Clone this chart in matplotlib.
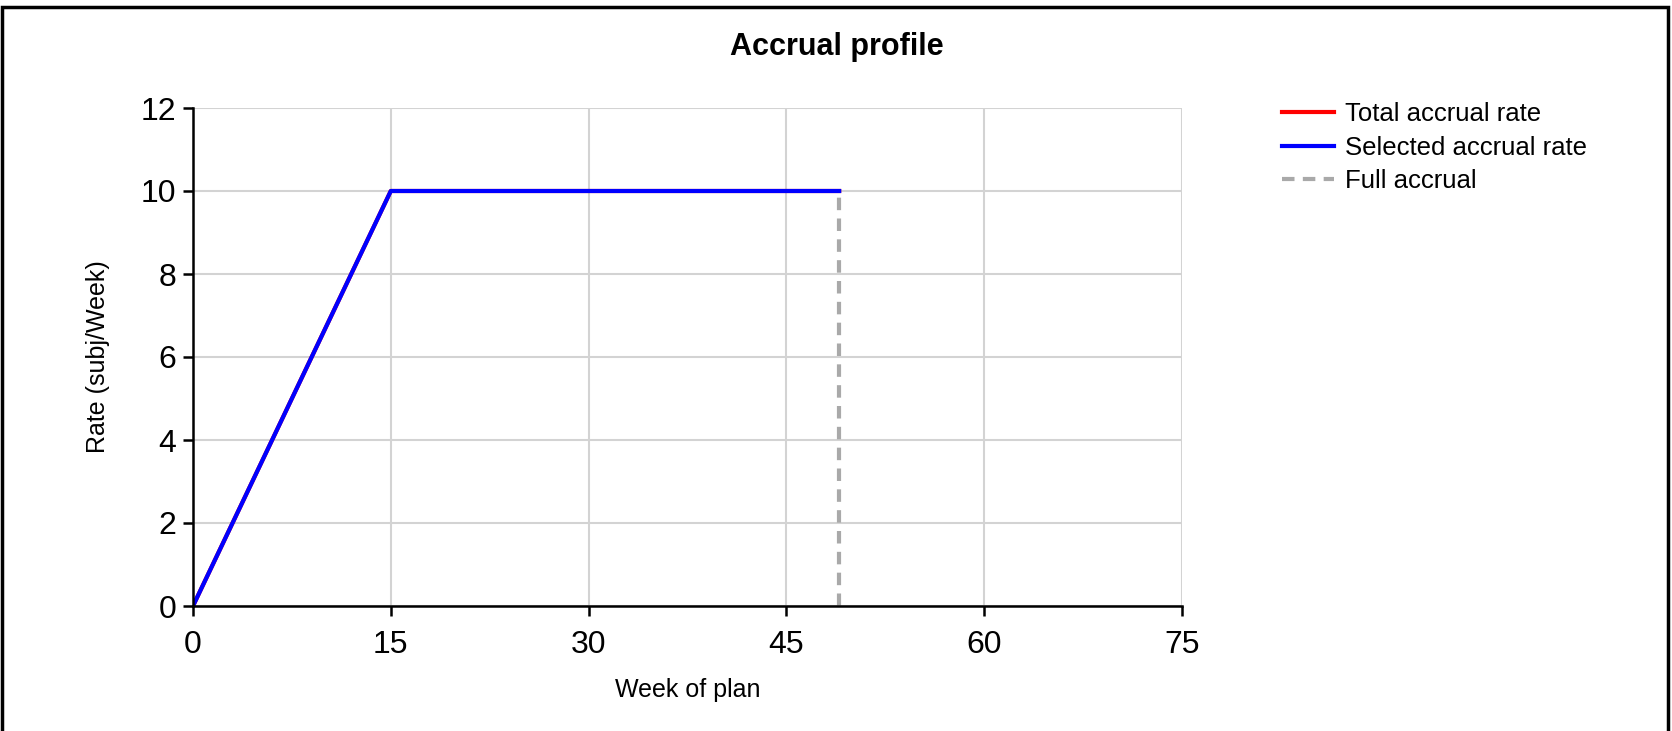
import matplotlib.pyplot as plt
from matplotlib.patches import Rectangle

plt.rcParams['font.family'] = ['Liberation Sans', 'DejaVu Sans']

# accrual profile data
weeks = [0, 15, 49]
total_rate = [0, 10, 10]
selected_rate = [0, 10, 10]
full_accrual_week = 49
full_accrual_rate = [0, 10]

xticks = [0, 15, 30, 45, 60, 75]
yticks = [0, 2, 4, 6, 8, 10, 12]

fig = plt.figure(figsize=(16.72, 7.31), dpi=100)
ax = fig.add_axes([193 / 1672, 1 - 606 / 731, (1182 - 193) / 1672, (606 - 108) / 731])

# outer frame
fig.patches.append(Rectangle((2 / 1672, -0.01), 1 - 6 / 1672, 1.0, transform=fig.transFigure,
                             fill=False, edgecolor='black', linewidth=2.5))

ax.plot(weeks, total_rate, color='red', linewidth=3, label='Total accrual rate')
ax.plot(weeks, selected_rate, color='blue', linewidth=3, label='Selected accrual rate')
ax.plot([full_accrual_week, full_accrual_week], full_accrual_rate, color='#a9a9a9',
        linewidth=3, linestyle=(0, (3, 2)), label='Full accrual')

ax.set_xlim(0, 75)
ax.set_ylim(0, 12)
ax.set_xticks(xticks)
ax.set_yticks(yticks)
ax.grid(True, color='#d3d3d3', linewidth=1.5)
ax.set_axisbelow(True)
for s in ['top', 'right']:
    ax.spines[s].set_visible(False)
for s in ['left', 'bottom']:
    ax.spines[s].set_linewidth(1.8)
ax.tick_params(axis='both', length=7, width=1.8, labelsize=23, pad=5)
ax.tick_params(axis='x', pad=10)

ax.set_xlabel('Week of plan', fontsize=18, labelpad=13)
ax.set_ylabel('Rate (subj/Week)', fontsize=18, labelpad=22)

fig.text(0.5 * (193 + 1480) / 1672, 1 - 47 / 731, 'Accrual profile', fontsize=22,
         fontweight='bold', ha='center', va='center')

leg = fig.legend(loc='upper left', bbox_to_anchor=(1272 / 1672, 1 - 92 / 731), frameon=False,
                 fontsize=18.5, handlelength=2.0, handletextpad=0.45, labelspacing=0.36,
                 borderaxespad=0)

fig.savefig('out.png', dpi=100)
